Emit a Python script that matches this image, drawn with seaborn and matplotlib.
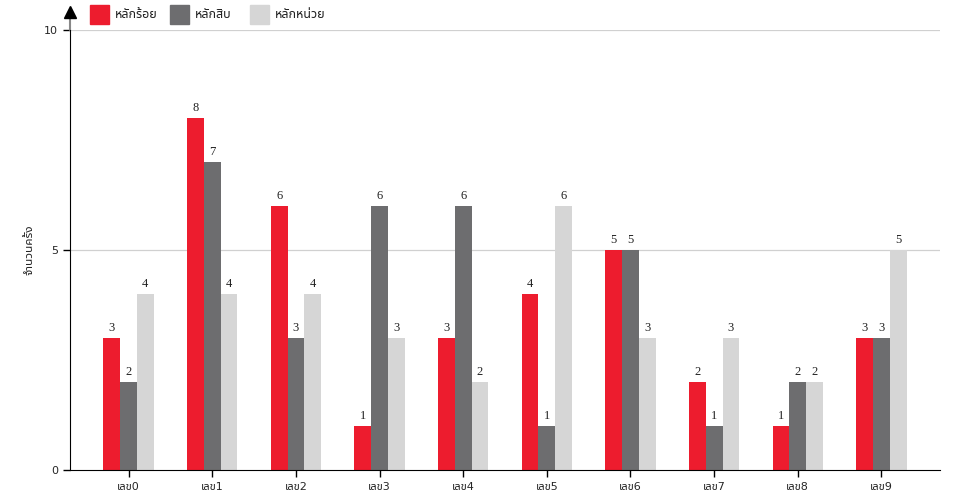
import numpy as np
import pandas as pd
import matplotlib
matplotlib.use("Agg")
import matplotlib.pyplot as plt
from matplotlib import font_manager
from matplotlib.patches import Rectangle
import seaborn as sns

digits = ['เลข0', 'เลข1', 'เลข2', 'เลข3', 'เลข4', 'เลข5', 'เลข6', 'เลข7', 'เลข8', 'เลข9']
series_names = ['หลักร้อย', 'หลักสิบ', 'หลักหน่วย']
hundreds = [3, 8, 6, 1, 3, 4, 5, 2, 1, 3]
tens = [2, 7, 3, 6, 6, 1, 5, 1, 2, 3]
units = [4, 4, 4, 3, 2, 6, 3, 3, 2, 5]
colors = ['#ED1C2E', '#6D6D6F', '#D6D6D6']


def find_thai_font():
    # look for installed fonts with Thai glyphs, prefer a plain sans one
    try:
        from fontTools.ttLib import TTFont
    except ImportError:
        return None
    found = []
    for path in font_manager.findSystemFonts():
        try:
            f = TTFont(path, fontNumber=0, lazy=True)
            cmap = f.getBestCmap()
            if cmap and 0x0E2B in cmap and 0x0E25 in cmap:
                name = font_manager.FontProperties(fname=path).get_name()
                found.append(name)
        except Exception:
            continue
    if not found:
        return None

    def score(n):
        s = 0
        low = n.lower()
        if 'mono' in low or 'typo' in low or 'typist' in low:
            s -= 10
        if 'sans' in low:
            s += 3
        if 'noto' in low:
            s += 2
        if 'thai' in low:
            s += 1
        return -s
    return sorted(set(found), key=score)[0]


sns.set_style('white')
thai = find_thai_font()
fams = ['DejaVu Sans'] + ([thai] if thai else [])
plt.rcParams['font.family'] = fams

df = pd.DataFrame({
    'digit': digits * 3,
    'series': np.repeat(series_names, len(digits)),
    'count': hundreds + tens + units,
})

fig = plt.figure(figsize=(9.6, 5), dpi=100)
ax = fig.add_axes([70 / 960, 30 / 500, 870 / 960, 440 / 500])

sns.barplot(data=df, x='digit', y='count', hue='series', palette=colors,
            width=0.6, saturation=1, legend=False, ax=ax, edgecolor='none')

for cont in ax.containers:
    ax.bar_label(cont, padding=3, fontsize=9, family='Liberation Serif', color='#222222')

ax.set_xlim(-0.7, 9.7)
ax.set_ylim(0, 10)
ax.set_yticks([0, 5, 10])
ax.set_xlabel('')
ax.set_ylabel('จำนวนครั้ง', fontsize=8.5, labelpad=6)
for y in [5, 10]:
    ax.axhline(y, color='#d0d0d0', lw=0.9, zorder=0)

for s in ['top', 'right']:
    ax.spines[s].set_visible(False)
ax.spines['left'].set_color('black')
ax.spines['bottom'].set_color('black')
ax.tick_params(axis='both', direction='out', length=5, width=1, labelsize=8,
               color='black', bottom=True, left=True)
ax.set_xticks([-0.7, 9.7], minor=True)
ax.tick_params(axis='x', which='minor', length=5, width=1, color='black')

# y axis arrow
ax.plot([0, 0], [1, 1.03], transform=ax.transAxes, color='#888888', lw=1.5, clip_on=False)
ax.plot([0], [1.04], transform=ax.transAxes, marker='^', ms=9, color='black', clip_on=False)

# legend on top
for i, (name, c) in enumerate(zip(series_names, colors)):
    x0 = (90 + 80 * i) / 960
    fig.add_artist(Rectangle((x0, 1 - 24 / 500), 19 / 960, 19 / 500,
                             transform=fig.transFigure, color=c))
    fig.text(x0 + 25 / 960, 1 - 14.5 / 500, name, fontsize=9, va='center', color='#222222')

fig.savefig('out.png', dpi=100)
